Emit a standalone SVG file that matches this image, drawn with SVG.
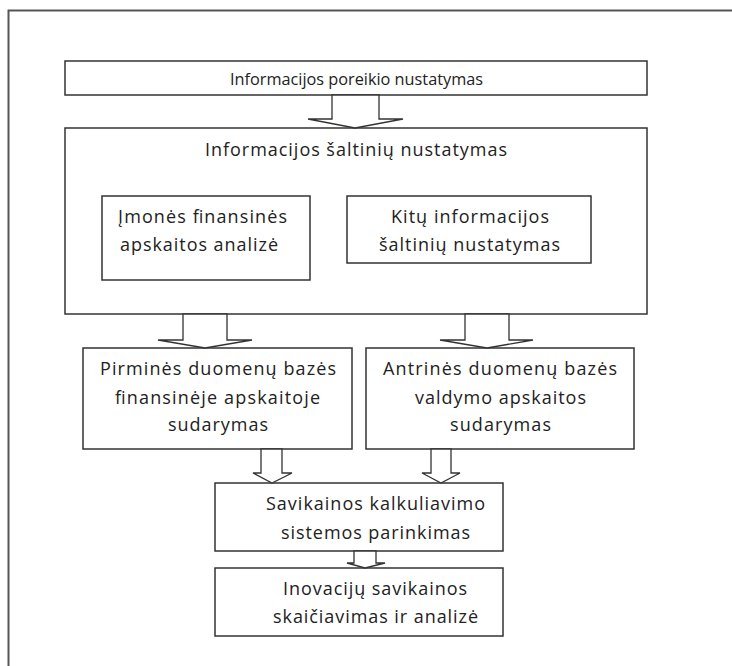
<svg xmlns="http://www.w3.org/2000/svg" width="732" height="666" viewBox="0 0 732 666">
<style>
.box{fill:#fff;stroke:#333;stroke-width:1.5}
.arr{fill:#fff;stroke:#333;stroke-width:1.3;stroke-linejoin:miter}
text{font-family:"Open Sans","DejaVu Sans",sans-serif;font-size:18px;fill:#222}
</style>
<rect width="732" height="666" fill="#fff"/>
<path d="M8.5,666 V10.5 H732" fill="none" stroke="#555" stroke-width="2"/>
<g id="n1">
<rect class="box" x="65" y="61" width="582" height="34"/>
<text x="230" y="85" style="font-size:16.5px" textLength="253" lengthAdjust="spacingAndGlyphs">Informacijos poreikio nustatymas</text>
</g>
<g id="n2">
<rect class="box" x="65" y="128" width="582" height="186"/>
<text x="205" y="156" textLength="302" lengthAdjust="spacing">Informacijos šaltinių nustatymas</text>
</g>
<g id="n3">
<rect class="box" x="102" y="196" width="208" height="84"/>
<text x="118" y="223" textLength="169" lengthAdjust="spacing">Įmonės finansinės</text>
<text x="120" y="251" textLength="158" lengthAdjust="spacing">apskaitos analizė</text>
</g>
<g id="n4">
<rect class="box" x="347" y="196" width="244" height="67"/>
<text x="391" y="223" textLength="158" lengthAdjust="spacing">Kitų informacijos</text>
<text x="379" y="251" textLength="181" lengthAdjust="spacing">šaltinių nustatymas</text>
</g>
<g id="n5">
<rect class="box" x="83" y="348" width="269" height="101"/>
<text x="100" y="375" textLength="236" lengthAdjust="spacing">Pirminės duomenų bazės</text>
<text x="115" y="404" textLength="205" lengthAdjust="spacing">finansinėje apskaitoje</text>
<text x="168" y="431" textLength="100" lengthAdjust="spacing">sudarymas</text>
</g>
<g id="n6">
<rect class="box" x="366" y="348" width="268" height="101"/>
<text x="383" y="375" textLength="234" lengthAdjust="spacing">Antrinės duomenų bazės</text>
<text x="415" y="404" textLength="171" lengthAdjust="spacing">valdymo apskaitos</text>
<text x="450" y="431" textLength="101" lengthAdjust="spacing">sudarymas</text>
</g>
<g id="n7">
<rect class="box" x="215" y="483" width="288" height="68"/>
<text x="266" y="510" textLength="219" lengthAdjust="spacing">Savikainos kalkuliavimo</text>
<text x="281" y="539" textLength="189" lengthAdjust="spacing">sistemos parinkimas</text>
</g>
<g id="n8">
<rect class="box" x="215" y="568" width="288" height="68"/>
<text x="283" y="595" textLength="184" lengthAdjust="spacing">Inovacijų savikainos</text>
<text x="273" y="623" textLength="205" lengthAdjust="spacing">skaičiavimas ir analizė</text>
</g>
<g id="connectors">
<polygon class="arr" points="332,95 332,119 308,119 355,128 403,119 379,119 379,95"/>
<polygon class="arr" points="183,314 183,340 158,340 205,348 252,340 227,340 227,314"/>
<polygon class="arr" points="465,314 465,340 440,340 487,348 533,340 509,340 509,314"/>
<polygon class="arr" points="261,449 261,473 253,473 272,483 292,473 282,473 282,449"/>
<polygon class="arr" points="431,449 431,473 422,473 441,483 460,473 451,473 451,449"/>
<polygon class="arr" points="354,551 354,563 347,563 365,568 385,563 376,563 376,551"/>
</g>
</svg>
